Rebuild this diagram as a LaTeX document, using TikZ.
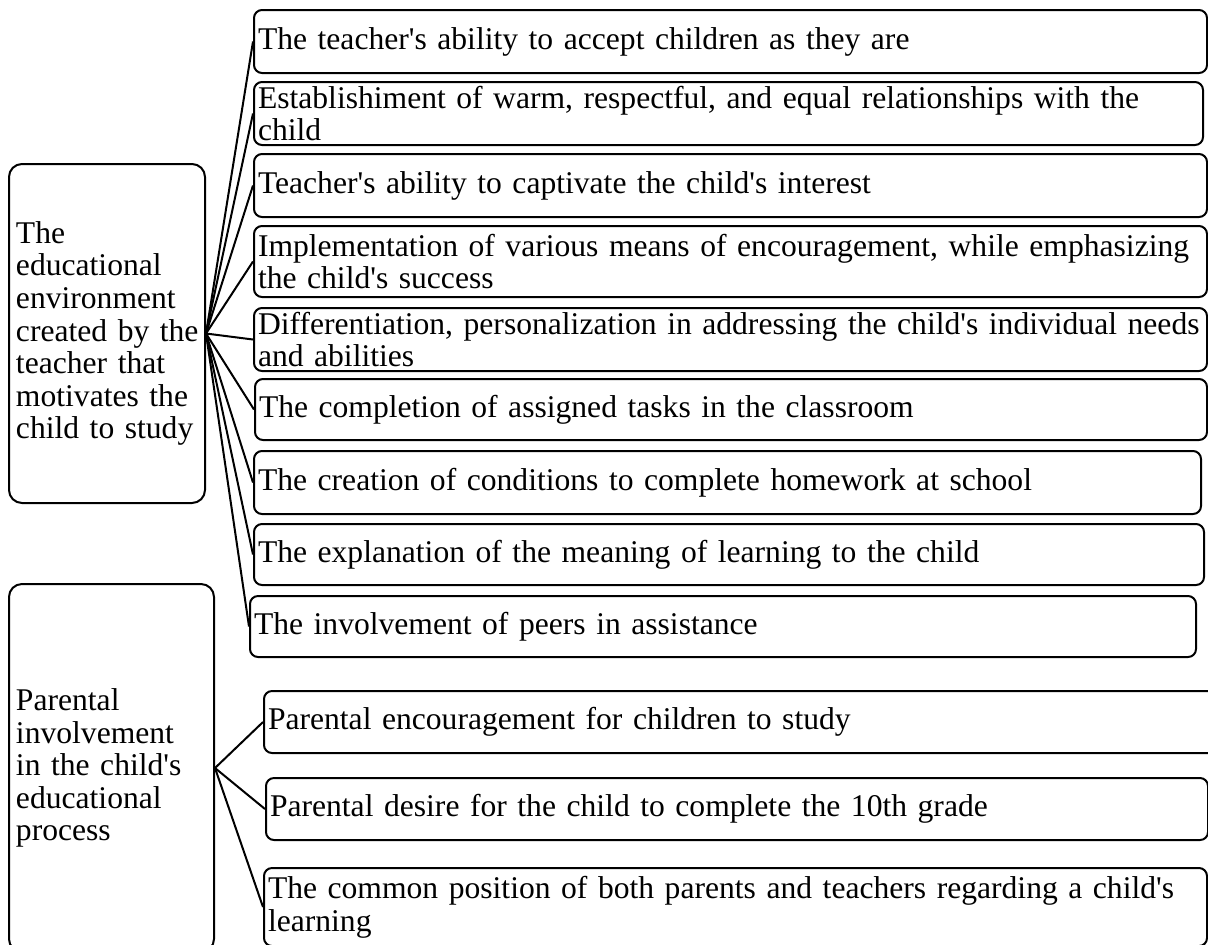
\documentclass[tikz,border=0pt]{standalone}
\usepackage{fontspec}
\newfontfamily\tnr{Liberation Serif}
\usepackage{tikz}
\tikzset{
	item/.style={draw, line width=1pt, rounded corners=4pt, inner xsep=2pt, inner ysep=0pt,
			align=left, anchor=north west, font=\tnr\fontsize{15.8}{16.3}\selectfont},
	group/.style={item, rounded corners=6.5pt, inner xsep=3.5pt}
}

\begin{document}
\begin{tikzpicture}[x=0.5pt, y=-0.5pt, line width=1pt]
	\useasboundingbox (0,0) rectangle (1208,944);

	\node[group, text width=91pt, minimum height=169.5pt] (env) at (8,163)
		{The\\educational\\environment\\\mbox{created by the}\\teacher that\\motivates the\\child to study};
	\node[group, text width=95.5pt, minimum height=184pt] (par) at (8,583)
		{Parental\\involvement\\in the child's\\educational\\process};

	\node[item, text width=472.5pt, minimum height=31.5pt] (t1) at (253,9) {The teacher's ability to accept children as they are};
	\node[item, text width=470.5pt, minimum height=31.5pt] (t2) at (253,81) {Establishiment of warm, respectful, and equal relationships with the\\child};
	\node[item, text width=472.5pt, minimum height=31.5pt] (t3) at (253,153) {Teacher's ability to captivate the child's interest};
	\node[item, text width=472.5pt, minimum height=35.5pt] (t4) at (253,225) {Implementation of various means of encouragement, while emphasizing\\the child's success};
	\node[item, text width=472.5pt, minimum height=31.5pt] (t5) at (253,307) {Differentiation, personalization in addressing the child's individual needs\\and abilities};
	\node[item, text width=472pt, minimum height=30.5pt] (t6) at (254,378) {The completion of assigned tasks in the classroom};
	\node[item, text width=469.5pt, minimum height=31.5pt] (t7) at (253,450) {The creation of conditions to complete homework at school};
	\node[item, text width=471pt, minimum height=30.5pt] (t8) at (253,523) {The explanation of the meaning of learning to the child};
	\node[item, text width=469pt, minimum height=30.5pt] (t9) at (249,595) {The involvement of peers in assistance};

	\node[item, text width=472pt, minimum height=31pt] (p1) at (263,690) {Parental encouragement for children to study};
	\node[item, text width=467pt, minimum height=31pt] (p2) at (265,777) {Parental desire for the child to complete the 10th grade};
	\node[item, text width=467.5pt, minimum height=39pt] (p3) at (263,867) {The common position of both parents and teachers regarding a child's\\learning};

	\foreach \n in {t1,t2,t3,t4,t5,t6,t7,t8,t9}
		\draw (env.east) -- (\n.west);
	\foreach \n in {p1,p2,p3}
		\draw (par.east) -- (\n.west);
\end{tikzpicture}
\end{document}
